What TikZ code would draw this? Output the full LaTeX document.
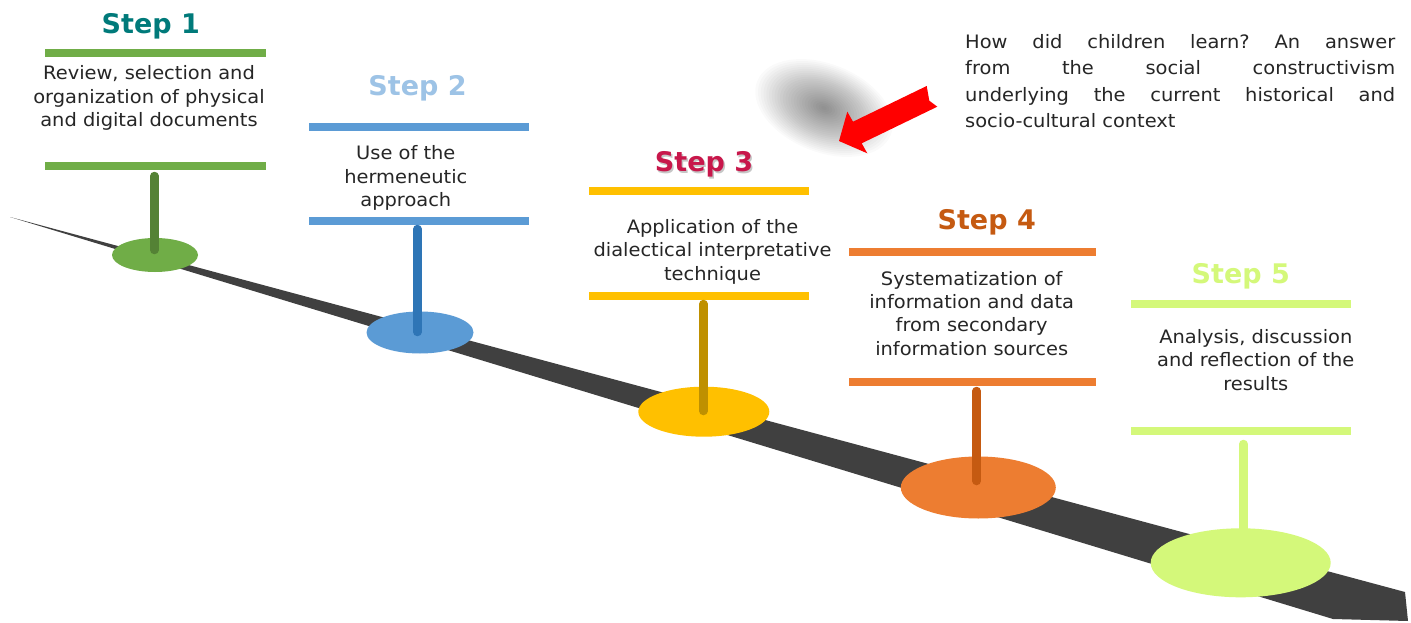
\documentclass[tikz,border=0pt]{standalone}
\usepackage{fontspec}
\setmainfont{DejaVu Sans}
\newfontfamily\bodyfont{DejaVu Sans}[FakeStretch=1.05]
\usetikzlibrary{shapes.geometric}
\definecolor{roadc}{HTML}{404040}
\definecolor{txt}{HTML}{262626}
\definecolor{tA}{HTML}{007A7A}\definecolor{gA}{HTML}{70AD47}\definecolor{sA}{HTML}{548235}
\definecolor{tB}{HTML}{9DC3E6}\definecolor{gB}{HTML}{5B9BD5}\definecolor{sB}{HTML}{2E75B6}
\definecolor{tC}{HTML}{C8174B}\definecolor{gC}{HTML}{FFC000}\definecolor{sC}{HTML}{BF9000}
\definecolor{tD}{HTML}{C55A11}\definecolor{gD}{HTML}{ED7D31}\definecolor{sD}{HTML}{C55A11}
\definecolor{gE}{HTML}{D4F87A}
\definecolor{arrowred}{HTML}{FF0000}
\newcommand\fullline[1]{\leavevmode\hbox to 430pt{#1}}
\begin{document}
\begin{tikzpicture}[x=1pt,y=-1pt,
  bar/.style={fill=#1, draw=none, minimum height=8pt, inner sep=0pt, rectangle},
  disc/.style={ellipse, fill=#1, draw=none, inner sep=0pt},
  stem/.style={line width=8.5pt, line cap=round, draw=#1},
  steptitle/.style={font=\fontsize{27}{32}\selectfont\bfseries, text=#1, anchor=base, inner sep=0pt},
  desc/.style={font=\bodyfont\fontsize{18.5}{23.4}\selectfont, text=txt, align=center, text width=290pt, anchor=base, inner sep=0pt}]
\useasboundingbox (0,0) rectangle (1411,623);
\fill[white] (0,0) rectangle (1411,623);
% soft shadow blob
\coordinate (blob) at (824,108);
\foreach \s in {1,0.96,...,0.04}
  \fill[black, opacity=0.018, rotate around={-22:(blob)}] (blob) ellipse [x radius=72*\s, y radius=44*\s];
% road
\fill[roadc] (10,217) -- (1405,592) -- (1408,621) -- (1333,619) -- cycle;
% discs
\node[disc=gA, minimum width=86pt, minimum height=34pt] (e1) at (155,255) {};
\node[disc=gB, minimum width=107pt, minimum height=42pt] (e2) at (420,332.5) {};
\node[disc=gC, minimum width=131pt, minimum height=50pt] (e3) at (703.8,411.7) {};
\node[disc=gD, minimum width=155pt, minimum height=62pt] (e4) at (978.3,487.5) {};
\node[disc=gE, minimum width=180pt, minimum height=69pt] (e5) at (1240.7,562.8) {};
% bars
\node[bar=gA, minimum width=221pt] (t1) at (155.5,53.5) {};
\node[bar=gA, minimum width=221pt] (b1) at (155.5,166) {};
\node[bar=gB, minimum width=220pt] (t2) at (419,126.7) {};
\node[bar=gB, minimum width=220pt] (b2) at (419,220.5) {};
\node[bar=gC, minimum width=220pt] (t3) at (699.3,190.7) {};
\node[bar=gC, minimum width=220pt] (b3) at (699.3,296) {};
\node[bar=gD, minimum width=246.7pt] (t4) at (972.7,251.7) {};
\node[bar=gD, minimum width=246.7pt] (b4) at (972.7,381.7) {};
\node[bar=gE, minimum width=220pt] (t5) at (1241,304) {};
\node[bar=gE, minimum width=220pt] (b5) at (1241,431.3) {};
% stems
\coordinate (s1a) at (154.3,176); \coordinate (s1b) at (154.3,250);
\coordinate (s2a) at (417.3,229); \coordinate (s2b) at (417.3,332);
\coordinate (s3a) at (703.3,304); \coordinate (s3b) at (703.3,411);
\coordinate (s4a) at (976.7,391); \coordinate (s4b) at (976.7,481);
\coordinate (s5a) at (1243.3,444); \coordinate (s5b) at (1243.3,540);
\draw[stem=sA] (s1a) -- (s1b);
\draw[stem=sB] (s2a) -- (s2b);
\draw[stem=sC] (s3a) -- (s3b);
\draw[stem=sD] (s4a) -- (s4b);
\draw[stem=gE] (s5a) -- (s5b);
% titles
\node[steptitle=tA] (h1) at (150.8,33.3) {Step 1};
\node[steptitle=tB] (h2) at (417.5,96) {Step 2};
\node[steptitle=gray!45] (h3s) at (705.5,173.2) {Step 3};
\node[steptitle=tC] (h3) at (704,171.7) {Step 3};
\node[steptitle=tD] (h4) at (986.7,229) {Step 4};
\node[steptitle=gE] (h5) at (1240.8,283) {Step 5};
% descriptions
\node[desc] (d1) at (149,80) {Review, selection and\\organization of physical\\and digital documents};
\node[desc] (d2) at (405.8,160) {Use of the\\hermeneutic\\approach};
\node[desc] (d3) at (712.5,233.3) {Application of the\\dialectical interpretative\\technique};
\node[desc] (d4) at (971.7,285) {Systematization of\\information and data\\from secondary\\information sources};
\node[desc] (d5) at (1255.8,343.3) {Analysis, discussion\\and reflection of the\\results};
% note
\node[font=\bodyfont\fontsize{18.5}{26.4}\selectfont, text=txt, align=left, text width=430pt, anchor=base west, inner sep=0pt] (note) at (965,48.3)
 {\fullline{How\hfill did\hfill children\hfill learn?\hfill An\hfill answer}\\
  \fullline{from\hfill the\hfill social\hfill constructivism}\\
  \fullline{underlying\hfill the\hfill current\hfill historical\hfill and}\\
  socio-cultural context};
% red arrow
\fill[arrowred] (839,141) -- (847.3,111.7) -- (853,121.7) -- (926.7,86) -- (929.3,100.7) -- (937.3,106.7) -- (861.7,143.3) -- (867.3,153.3) -- cycle;
\end{tikzpicture}
\end{document}
